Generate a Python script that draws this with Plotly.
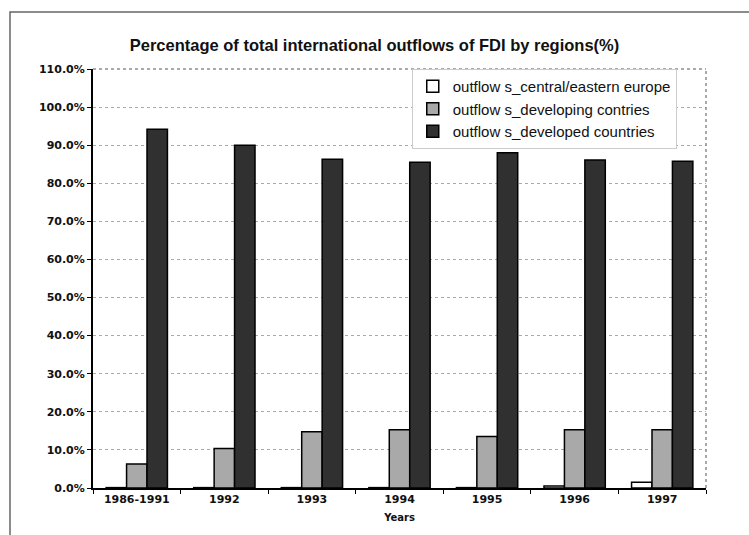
import plotly.graph_objects as go

years = ["1986-1991", "1992", "1993", "1994", "1995", "1996", "1997"]
central_eastern = [0.1, 0.1, 0.1, 0.1, 0.1, 0.5, 1.5]
developing = [6.3, 10.4, 14.8, 15.3, 13.5, 15.3, 15.3]
developed = [94.2, 90.0, 86.3, 85.5, 88.0, 86.1, 85.8]
ytick_vals = [0, 10, 20, 30, 40, 50, 60, 70, 80, 90, 100, 110]
ytick_text = ["0.0%", "10.0%", "20.0%", "30.0%", "40.0%", "50.0%", "60.0%",
              "70.0%", "80.0%", "90.0%", "100.0%", "110.0%"]
names = ["outflow s_central/eastern europe", "outflow s_developing contries",
         "outflow s_developed countries"]

fig = go.Figure()
for vals, name, color in [(central_eastern, names[0], "#ffffff"),
                          (developing, names[1], "#a9a9a9"),
                          (developed, names[2], "#303030")]:
    fig.add_trace(go.Bar(x=years, y=vals, name=name, marker_color=color,
                         marker_line_color="#000000", marker_line_width=1.5))

fig.update_layout(
    width=749, height=535,
    margin=dict(l=93, r=43, t=69, b=47),
    paper_bgcolor="white", plot_bgcolor="white",
    barmode="group", bargap=0.3, bargroupgap=0,
    title=dict(text="<b>Percentage of total international outflows of FDI by regions(%)</b>",
               x=0.5, xanchor="center", y=0.915, yanchor="middle",
               font=dict(family="Liberation Sans", size=16.5, color="#111")),
    font=dict(family="Liberation Sans", color="#111"),
    legend=dict(x=0.52, y=1.0, xanchor="left", yanchor="top",
                bgcolor="white", bordercolor="#cccccc", borderwidth=1,
                font=dict(size=15, color="#111"), tracegroupgap=0,
                itemwidth=30),
    showlegend=True,
)
fig.update_xaxes(
    showline=True, linecolor="#000", linewidth=2,
    ticks="outside", tickson="boundaries", ticklen=4, tickcolor="#000",
    tickfont=dict(size=11, family="DejaVu Sans", color="#111"),
    tickprefix="<b>", ticksuffix="</b>",
    title=dict(text="<b>Years</b>", font=dict(size=10, family="DejaVu Sans"), standoff=9),
    showgrid=False,
)
fig.update_yaxes(
    range=[0, 110], tickvals=ytick_vals, ticktext=["<b>" + t + "</b>" for t in ytick_text],
    showline=True, linecolor="#000", linewidth=2,
    ticks="outside", ticklen=4, tickcolor="#000",
    tickfont=dict(size=11, family="DejaVu Sans", color="#111"),
    showgrid=True, gridcolor="#aaa", griddash="dot", gridwidth=1,
    zeroline=False,
)
# plot-area right and top border (dotted)
fig.add_shape(type="line", xref="paper", yref="paper", x0=0, x1=1, y0=1, y1=1,
              line=dict(color="#555", width=1, dash="dot"))
fig.add_shape(type="line", xref="paper", yref="paper", x0=1, x1=1, y0=0, y1=1,
              line=dict(color="#555", width=1, dash="dot"))
# outer chart border
fig.add_shape(type="rect", xref="paper", yref="paper",
              x0=-0.1354, x1=1.1, y0=-0.15, y1=1.136,
              line=dict(color="#666", width=1.5), layer="below")

fig.write_html("out.html")
